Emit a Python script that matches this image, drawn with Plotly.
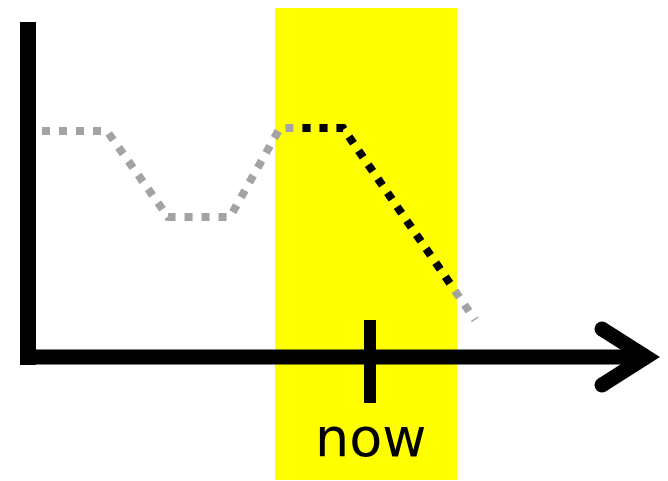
import plotly.graph_objects as go

# values (x = time, y = level, bottom-left origin)
time = [42, 107, 168, 230, 280, 343, 475]
level = [350, 350, 264, 264, 353, 353, 161]

# part of the series inside the "now" window, drawn in black
# (starts on a dash of the grey line so the dots line up)
now_time = [302.5, 343, 450.4]
now_level = [353, 353, 197]

window = [275, 457]
now_x = 370
now_label = "now"

W, H = 668, 481
PAGE_MARGIN = 8  # default body margin of the html page

fig = go.Figure()

# ---------- NOW WINDOW ----------
fig.add_shape(
    type="rect", x0=window[0], x1=window[1], y0=1, y1=476,
    fillcolor="#ffff00", line=dict(width=0), layer="below",
)

# ---------- SERIES ----------
fig.add_trace(
    go.Scatter(
        x=time, y=level, mode="lines",
        line=dict(color="#a3a3a3", width=8, dash="8px,9px"),
        hoverinfo="skip",
    )
)
fig.add_trace(
    go.Scatter(
        x=now_time, y=now_level, mode="lines",
        line=dict(color="black", width=8, dash="8px,9px"),
        hoverinfo="skip",
    )
)

# ---------- AXES ----------
fig.add_shape(type="line", x0=28, x1=28, y0=116, y1=459,
              line=dict(color="black", width=16))
fig.add_shape(type="line", x0=20, x1=648, y0=124, y1=124,
              line=dict(color="black", width=15))
fig.add_shape(type="path", path="M 602 152 L 646 124 L 602 96",
              line=dict(color="black", width=15))
# round caps on the arrow head
fig.add_trace(
    go.Scatter(
        x=[602, 602], y=[152, 96], mode="markers",
        marker=dict(color="black", size=15, line=dict(width=0)),
        hoverinfo="skip",
    )
)
fig.add_shape(type="line", x0=now_x, x1=now_x, y0=78, y1=161,
              line=dict(color="black", width=12))

fig.add_annotation(
    x=now_x, y=44, text=now_label, showarrow=False,
    font=dict(family="DejaVu Sans", size=54, color="black"),
    xanchor="center", yanchor="middle",
)

fig.update_xaxes(range=[PAGE_MARGIN, W + PAGE_MARGIN], visible=False, fixedrange=True)
fig.update_yaxes(range=[-PAGE_MARGIN, H - PAGE_MARGIN], visible=False, fixedrange=True)

fig.update_layout(
    width=W,
    height=H,
    margin=dict(l=0, r=0, t=0, b=0),
    showlegend=False,
    paper_bgcolor="white",
    plot_bgcolor="white",
)

fig.write_html("out.html")
